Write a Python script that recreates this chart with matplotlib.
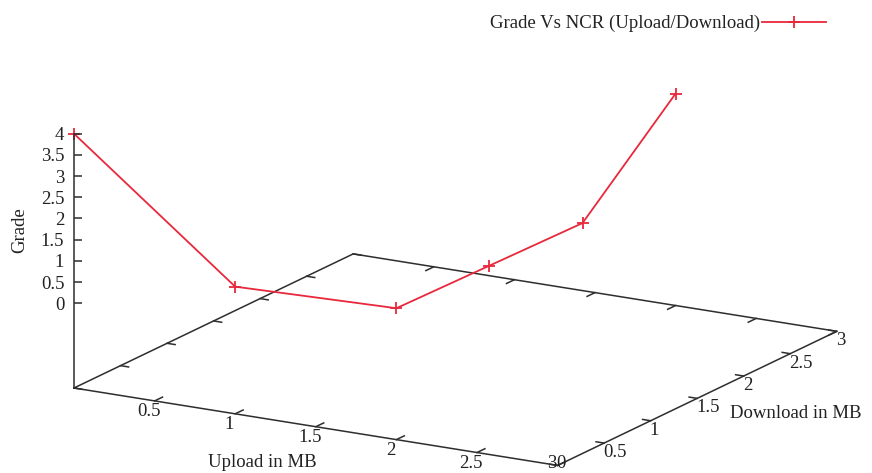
import numpy as np
import matplotlib
matplotlib.use('Agg')
import matplotlib.pyplot as plt
from matplotlib.lines import Line2D
from mpl_toolkits.mplot3d import proj3d

# ---------------- data ----------------
upload = [0, 1, 2, 2, 2, 2]
download = [0, 0, 0, 1, 2, 3]
grade = [4, 1, 1.1, 1.05, 1, 3]

x_ticks = [0.5, 1, 1.5, 2, 2.5, 3]
x_tick_labels = ['0.5', '1', '1.5', '2', '2.5', '3']
y_ticks = [0, 0.5, 1, 1.5, 2, 2.5, 3]
y_tick_labels = ['0', '0.5', '1', '1.5', '2', '2.5', '3']
z_ticks = [0, 0.5, 1, 1.5, 2, 2.5, 3, 3.5, 4]
z_tick_labels = ['0', '0.5', '1', '1.5', '2', '2.5', '3', '3.5', '4']

legend_label = 'Grade Vs NCR (Upload/Download)'
xlabel = 'Upload in MB'
ylabel = 'Download in MB'
zlabel = 'Grade'

XMIN, XMAX = 0, 3
YMIN, YMAX = 0, 3
ZMIN, ZMAX = -2, 4   # base plane sits below z=0 (gnuplot ticslevel)

# ---------------- style / layout ----------------
W, H = 872, 473
RED = '#e8283c'
AX = '#2e2e2e'
TXT = '#222222'
FONT = 'Liberation Serif'
FS = 13.5
plt.rcParams['font.family'] = [FONT, 'DejaVu Serif']

ORIGIN_PX = np.array([74.0, H - 388.0])
TARGET_LEN = np.hypot(483.0, 81.0)
BOX = (1, 1, 0.474)

fig = plt.figure(figsize=(W / 100, H / 100), dpi=100)
ax = fig.add_axes([-0.5, -0.5, 2, 2], projection='3d', proj_type='ortho')
ax.set_xlim(XMIN, XMAX)
ax.set_ylim(YMIN, YMAX)
ax.set_zlim(ZMIN, ZMAX)
ax.view_init(elev=16.1, azim=-60)
ax.set_box_aspect(BOX, zoom=1)
ax.set_axis_off()


def px(x, y, z):
    xs, ys, _ = proj3d.proj_transform(np.atleast_1d(np.asarray(x, float)),
                                      np.atleast_1d(np.asarray(y, float)),
                                      np.atleast_1d(np.asarray(z, float)), ax.M)
    return ax.transData.transform(np.column_stack([xs, ys]))


# calibrate scale and position of the projected box
fig.canvas.draw()
p0 = px(XMIN, YMIN, ZMIN)[0]
p1 = px(XMAX, YMIN, ZMIN)[0]
ax.set_box_aspect(BOX, zoom=TARGET_LEN / np.hypot(*(p1 - p0)))
fig.canvas.draw()
p0 = px(XMIN, YMIN, ZMIN)[0]
shift = (ORIGIN_PX - p0) / np.array([W, H])
ax.set_position([-0.5 + shift[0], -0.5 + shift[1], 2, 2])
fig.canvas.draw()

# base plane frame
bx = [XMIN, XMAX, XMAX, XMIN, XMIN]
by = [YMIN, YMIN, YMAX, YMAX, YMIN]
ax.plot(bx, by, [ZMIN] * 5, color=AX, lw=1.1, solid_joinstyle='miter')

# ticks on the base plane
TLY = 0.085
TLX = 0.05
for xv in x_ticks:
    ax.plot([xv, xv], [YMIN, YMIN + TLY], [ZMIN, ZMIN], color=AX, lw=1.1)
    ax.plot([xv, xv], [YMAX, YMAX - TLY], [ZMIN, ZMIN], color=AX, lw=1.1)
for yv in y_ticks:
    ax.plot([XMAX, XMAX - TLX], [yv, yv], [ZMIN, ZMIN], color=AX, lw=1.1)
    ax.plot([XMIN, XMIN + TLX], [yv, yv], [ZMIN, ZMIN], color=AX, lw=1.1)

LABEL_H = 15  # approx pixel height of a tick label


def place(u, v, lab, ha):
    # keep labels inside the canvas: if it would drop off the bottom, sit it on the edge
    if v - LABEL_H < 1:
        fig.text(u / W, 1 / H, lab, ha=ha, va='bottom', fontsize=FS, color=TXT)
    else:
        fig.text(u / W, v / H, lab, ha=ha, va='top', fontsize=FS, color=TXT)


# tick labels, placed at the projected tick positions (pixel offsets)
xp = px(x_ticks, [YMIN] * len(x_ticks), [ZMIN] * len(x_ticks))
for (u, v), lab in zip(xp, x_tick_labels):
    place(u - 6, v - 2, lab, 'center')
yp = px([XMAX] * len(y_ticks), y_ticks, [ZMIN] * len(y_ticks))
for (u, v), lab in zip(yp, y_tick_labels):
    place(u - 1, v - 1, lab, 'left')

# data line
ax.plot(upload, download, grade, color=RED, lw=1.3, marker='+', ms=9, mew=1.3)

# vertical (z) axis as a 2D overlay aligned with the projected corner
pz0 = px(XMIN, YMIN, ZMIN)[0]
pz1 = px(XMIN, YMIN, ZMAX)[0]
axz = fig.add_axes([pz0[0] / W, pz0[1] / H, 0.05, (pz1[1] - pz0[1]) / H])
axz.set_ylim(ZMIN, ZMAX)
axz.set_yticks(z_ticks, z_tick_labels)
axz.set_xticks([])
axz.patch.set_visible(False)
for s in ['top', 'right', 'bottom']:
    axz.spines[s].set_visible(False)
axz.spines['left'].set_color(AX)
axz.spines['left'].set_linewidth(1.1)
axz.tick_params(axis='y', direction='in', length=5.5, width=1.1, color=AX,
                pad=7, labelsize=FS, labelcolor=TXT)

# axis titles
fig.text(262 / W, 1 - 462 / H, xlabel, ha='center', va='center', fontsize=FS, color=TXT)
fig.text(730 / W, 1 - 413 / H, ylabel, ha='left', va='center', fontsize=FS, color=TXT)
fig.text(20 / W, 1 - 230 / H, zlabel, ha='center', va='center', rotation=90,
         fontsize=FS, color=TXT)

# legend (key on the right, like gnuplot)
handle = Line2D([], [], color=RED, lw=1.3, marker='+', ms=9, mew=1.3)
fig.legend([handle], [legend_label], loc='upper right',
           bbox_to_anchor=(826 / W, 1 - 15 / H), markerfirst=False, frameon=False,
           handlelength=3.4, handletextpad=0.1, borderpad=0, borderaxespad=0,
           fontsize=FS, labelcolor=TXT)

fig.savefig('out.png', dpi=100)
